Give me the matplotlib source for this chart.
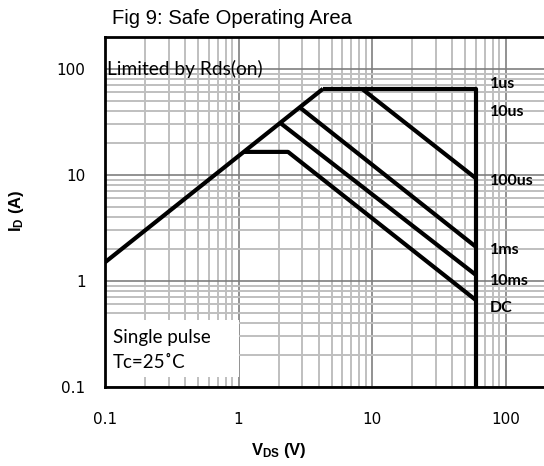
import matplotlib
matplotlib.use("Agg")
import matplotlib.pyplot as plt
from matplotlib.ticker import FixedLocator, NullFormatter
from matplotlib.patches import Rectangle

plt.rcParams['mathtext.fontset'] = 'custom'
plt.rcParams['mathtext.rm'] = 'Liberation Sans:bold'
plt.rcParams['mathtext.it'] = 'Liberation Sans:bold'
plt.rcParams['mathtext.bf'] = 'Liberation Sans:bold'

# SOA curves (V, A)
rds_v = [0.1, 4.3]
rds_i = [1.5, 65]
us1_v = [4.3, 60, 60]
us1_i = [65, 65, 0.1]
us10_v = [8.4, 60]
us10_i = [65, 9.3]
us100_v = [2.9, 60]
us100_i = [43, 2.1]
ms1_v = [2.05, 60]
ms1_i = [31, 1.14]
dc_v = [1.1, 2.35, 60]
dc_i = [16.5, 16.5, 0.66]

curve_labels = ["1us", "10us", "100us", "1ms", "10ms", "DC"]
label_y = [72, 39, 8.8, 1.96, 1.0, 0.56]

xticks = [0.1, 1, 10, 100]
xtick_text = ["0.1", "1", "10", "100"]
yticks = [0.1, 1, 10, 100]
ytick_text = ["0.1", "1", "10", "100"]

fig = plt.figure(figsize=(5.44, 4.66), dpi=100)
ax = fig.add_axes([105/544, 1 - 387/466, 460/544, 350/466])
ax.set_xscale("log")
ax.set_yscale("log")
ax.set_xlim(0.1, 10**(-1 + 460/133.5))
ax.set_ylim(0.1, 200)

# grid: vertical lines only up to 100 V
xminor = [m * 10.0**e for e in (-1, 0, 1) for m in range(2, 10)]
ax.xaxis.set_major_locator(FixedLocator(xticks))
ax.xaxis.set_minor_locator(FixedLocator(xminor))
yminor = [m * 10.0**e for e in (-1, 0, 1, 2) for m in range(2, 10)]
yminor = [v for v in yminor if v < 200]
ax.yaxis.set_major_locator(FixedLocator(yticks))
ax.yaxis.set_minor_locator(FixedLocator(yminor))
ax.xaxis.set_minor_formatter(NullFormatter())
ax.yaxis.set_minor_formatter(NullFormatter())
ax.set_xticklabels(xtick_text)
ax.set_yticklabels(ytick_text)
ax.set_axisbelow(True)
ax.grid(which="major", color="#7f7f7f", lw=1.2)
ax.grid(which="minor", color="#bfbfbf", lw=1.4)
ax.tick_params(which="both", length=0)
ax.tick_params(axis="x", pad=18, labelsize=11)
ax.tick_params(axis="y", pad=14, labelsize=11)
for s in ax.spines.values():
    s.set_linewidth(2)
    s.set_color("black")

lw = 3
for v, i in [(rds_v, rds_i), (us1_v, us1_i), (us10_v, us10_i),
             (us100_v, us100_i), (ms1_v, ms1_i), (dc_v, dc_i)]:
    ax.plot(v, i, color="black", lw=lw, solid_capstyle="butt", zorder=3)

for lab, y in zip(curve_labels, label_y):
    ax.text(76, y, lab, fontsize=11.5, fontweight="bold", family="Lato",
            va="center", ha="left", zorder=4)

ax.text(0.104, 100, "Limited by Rds(on)", fontsize=13.8, family="Lato",
        va="center", ha="left", zorder=4)

ax.add_patch(Rectangle((0.1, 0.124), 0.9, 0.43 - 0.124, facecolor="white",
                       edgecolor="none", zorder=1))
ax.text(0.115, 0.296, "Single pulse", fontsize=13.5, family="Lato",
        va="center", ha="left", zorder=4)
ax.text(0.115, 0.172, "Tc=25˚C", fontsize=13.5, family="Lato",
        va="center", ha="left", zorder=4)

fig.text(112/544, 1 - 19/466, "Fig 9: Safe Operating Area", fontsize=14.6,
         family="Liberation Sans", va="center", ha="left")
fig.text(279/544, 1 - 450/466, r"$V_{DS}$ (V)", fontsize=12,
         family="Liberation Sans", fontweight="bold", ha="center", va="center")
fig.text(16/544, 1 - 211/466, r"$I_D$ (A)", fontsize=12, rotation=90,
         family="Liberation Sans", fontweight="bold", ha="center", va="center")

fig.savefig("out.png", dpi=100)
